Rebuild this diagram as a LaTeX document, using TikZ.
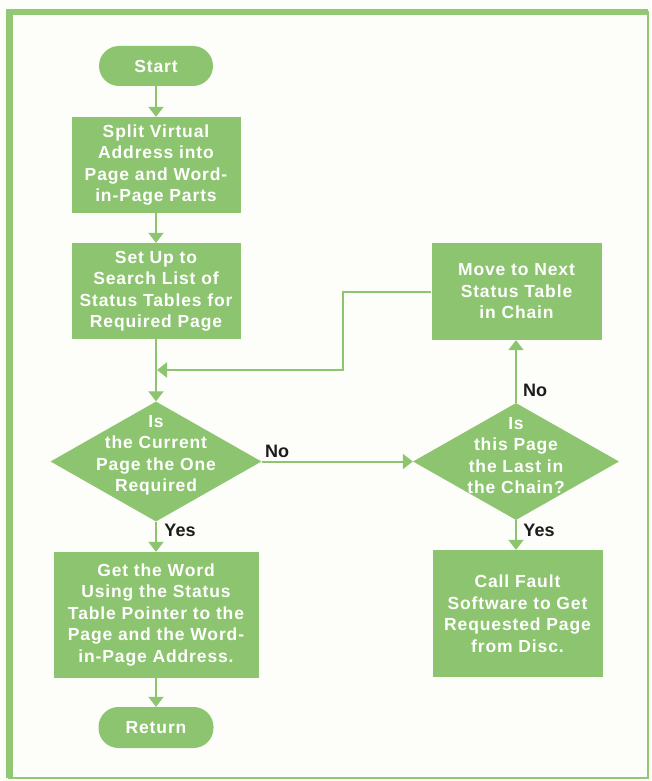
\documentclass[tikz,border=0pt]{standalone}
\usepackage{fontspec}
\setmainfont{Liberation Sans}
\newfontfamily\boxfont[LetterSpace=5]{Liberation Sans Bold}
\newfontfamily\labfont{Liberation Sans Bold}
\usetikzlibrary{shapes.geometric,arrows.meta}
\definecolor{hpgreen}{RGB}{141,196,111}
\definecolor{framegreen}{RGB}{146,200,116}
\definecolor{labelink}{RGB}{28,28,28}
\definecolor{paper}{RGB}{253,253,250}
\tikzset{
  proc/.style={fill=hpgreen, text=white, font=\boxfont\fontsize{17.5pt}{21.5pt}\selectfont,
    align=center, inner sep=0pt},
  term/.style={proc, rounded corners=20pt},
  decision/.style={diamond, fill=hpgreen, inner sep=0pt},
  dtext/.style={text=white, font=\boxfont\fontsize{17.5pt}{21.5pt}\selectfont, align=center, inner sep=0pt},
  flow/.style={draw=hpgreen, line width=2pt, -{Triangle[width=15pt,length=10pt]}},
  lab/.style={text=labelink, font=\labfont\fontsize{18pt}{18pt}\selectfont, inner sep=0pt},
  frameline/.style={draw=framegreen}
}
\begin{document}
\begin{tikzpicture}[x=1pt,y=-1pt]
\fill[paper] (0,0) rectangle (651,781);
\useasboundingbox (0,0) rectangle (651,781);
% frame
\draw[frameline, line width=2.5pt] (9.5,12) rectangle (648,778);
\draw[frameline, line width=7pt] (9.5,778) -- (9.5,12);
\draw[frameline, line width=6pt] (6,12) -- (648,12);
% left column
\node[term, minimum width=114pt, minimum height=40pt] (start) at (156,66) {Start};
\node[proc, minimum width=169pt, minimum height=96pt] (split) at (156,165)
  {Split Virtual\\Address into\\Page and Word-\\in-Page Parts};
\node[proc, minimum width=169pt, minimum height=96pt] (setup) at (156,291)
  {Set Up to\\Search List of\\Status Tables for\\Required Page};
\node[decision, minimum width=211pt, minimum height=120pt] (d1) at (156,461.5) {};
\node[dtext] (d1t) at (156,455.5) {Is\\the Current\\Page the One\\Required};
\node[proc, minimum width=205pt, minimum height=126pt] (get) at (156,615)
  {Get the Word\\Using the Status\\Table Pointer to the\\Page and the Word-\\in-Page Address.};
\node[term, minimum width=115pt, minimum height=41pt] (ret) at (156,727.5) {Return};
% right column
\node[proc, minimum width=170pt, minimum height=97pt] (move) at (516.5,291.5)
  {Move to Next\\Status Table\\in Chain};
\node[decision, minimum width=206pt, minimum height=117pt] (d2) at (516,461.5) {};
\node[dtext] (d2t) at (516,455.5) {Is\\this Page\\the Last in\\the Chain?};
\node[proc, minimum width=170pt, minimum height=127pt] (call) at (517.5,613.5)
  {Call Fault\\Software to Get\\Requested Page\\from Disc.};
% connectors
\coordinate (loop) at (343,370);
\coordinate (merge) at (157,370);
\draw[flow] (start) -- (split);
\draw[flow] (split) -- (setup);
\draw[flow] (setup) -- (d1.north);
\draw[flow] (move.west) -| (loop) -- (merge);
\draw[flow] (d1.east) -- (d2.west);
\draw[flow] (d1.south) -- (get);
\draw[flow] (get) -- (ret);
\draw[flow] (d2.north) -- (d2.north |- move.south);
\draw[flow] (d2.south) -- (d2.south |- call.north);
% labels
\node[lab, anchor=west] (no1) at (265,451) {No};
\node[lab] (yes1) at (180,530) {Yes};
\node[lab] (no2) at (535,390) {No};
\node[lab] (yes2) at (539,530) {Yes};
\end{tikzpicture}
\end{document}
